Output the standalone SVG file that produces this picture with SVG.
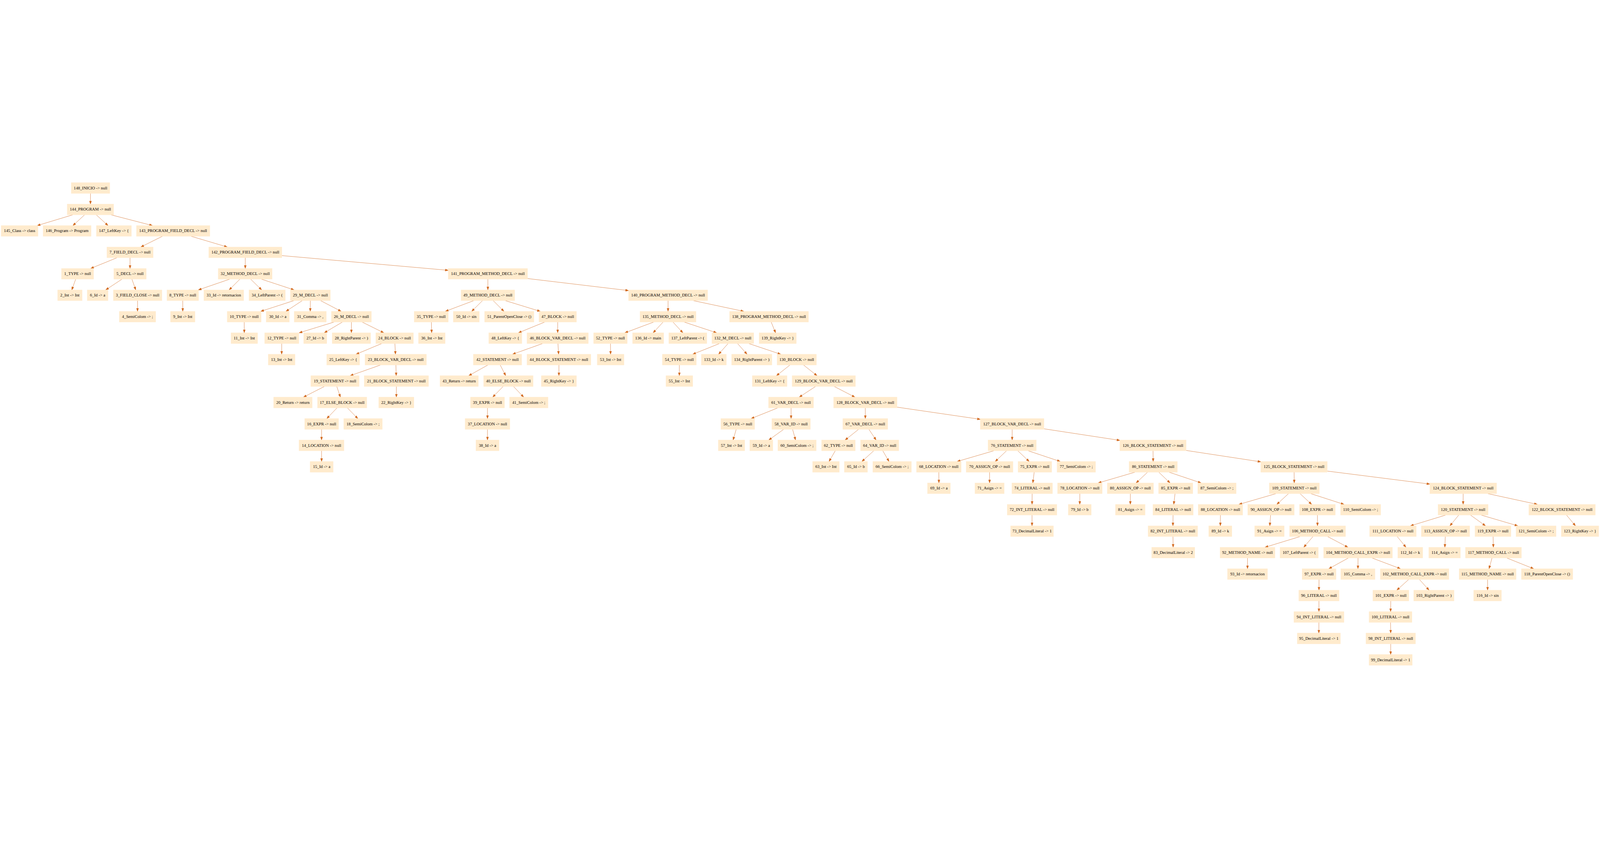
<svg xmlns="http://www.w3.org/2000/svg" width="7161" height="2171" viewBox="0 0 7161 2171">
<style>
:root{width:100vw;height:100vh;display:block}
.n rect{fill:#ffebcd;stroke:#ffebcd;stroke-width:1.33}
.n text{font-family:"Liberation Serif","Times New Roman",serif;font-size:18.67px;text-anchor:middle;fill:#000}
.e path{stroke:#d2691e;stroke-width:1.33;fill:none;marker-end:url(#a)}
</style>
<defs>
<marker id="a" markerUnits="userSpaceOnUse" markerWidth="16" markerHeight="12" viewBox="-1 -6 16 12" refX="13.33" refY="0" orient="auto">
<path d="M0,-4.67 L13.33,0 L0,4.67 Z" fill="#d2691e" stroke="#d2691e" stroke-width="1.33"/>
</marker>
</defs>
<rect x="0" y="0" width="7161" height="2171" fill="#fff"/>
<g id="edges" class="e">
<path d="M405.1 53.33L404.8 101.33"/>
<path d="M325.34 149.33L166.61 197.33"/>
<path d="M378.58 149.33L326.33 197.33"/>
<path d="M430.95 149.33L483.45 197.33"/>
<path d="M497.24 149.33L682.31 197.33"/>
<path d="M726.64 245.33L630.21 293.33"/>
<path d="M855.65 245.33L1017.25 293.33"/>
<path d="M523.31 341.33L405.94 389.33"/>
<path d="M582 341.33L582 389.33"/>
<path d="M1097.9 341.33L1097.6 389.33"/>
<path d="M1261.6 331.8L2006.2 397.6"/>
<path d="M338.65 437.33L321.45 485.33"/>
<path d="M545.7 437.33L473.1 485.33"/>
<path d="M590.48 437.33L607.43 485.33"/>
<path d="M1027.56 437.33L887.79 485.33"/>
<path d="M1073.49 437.33L1025.56 485.33"/>
<path d="M1122 437.33L1171.1 485.33"/>
<path d="M1170.35 437.33L1316.15 485.33"/>
<path d="M2183.54 437.33L2183.51 485.33"/>
<path d="M2360.9 434.4L2813.2 488.3"/>
<path d="M615.75 533.33L615.45 581.33"/>
<path d="M817.91 533.33L817.94 581.33"/>
<path d="M1315.01 533.33L1166.94 581.33"/>
<path d="M1352.6 533.33L1279.7 581.33"/>
<path d="M1388.9 533.33L1388.6 581.33"/>
<path d="M1434.98 533.33L1526.83 581.33"/>
<path d="M2120.1 533.33L1993.3 581.33"/>
<path d="M2159.39 533.33L2111.16 581.33"/>
<path d="M2207.48 533.33L2255.43 581.33"/>
<path d="M2261.7 533.33L2418.1 581.33"/>
<path d="M2989.99 533.33L2989.96 581.33"/>
<path d="M3103 533.33L3329 581.33"/>
<path d="M1093.04 629.33L1093.31 677.33"/>
<path d="M1494.82 629.33L1338.97 677.33"/>
<path d="M1532.27 629.33L1451.32 677.33"/>
<path d="M1572.74 629.33L1572.71 677.33"/>
<path d="M1621.08 629.33L1717.73 677.33"/>
<path d="M1930.6 629.33L1932 677.33"/>
<path d="M2437.61 629.33L2320.24 677.33"/>
<path d="M2496.18 629.33L2495.93 677.33"/>
<path d="M2925.51 629.33L2796.64 677.33"/>
<path d="M2967.7 629.33L2923.2 677.33"/>
<path d="M3012.05 629.33L3056.25 677.33"/>
<path d="M3062.43 629.33L3207.38 677.33"/>
<path d="M3451.69 629.33L3471.06 677.33"/>
<path d="M1260.91 725.33L1260.64 773.33"/>
<path d="M1708.54 725.33L1593.51 773.33"/>
<path d="M1767.35 725.33L1769.95 773.33"/>
<path d="M2428.5 725.33L2293.9 773.33"/>
<path d="M2497.23 725.33L2500.08 773.33"/>
<path d="M2732.35 725.33L2732.65 773.33"/>
<path d="M3220.01 725.33L3100.34 773.33"/>
<path d="M3258.61 725.33L3216.14 773.33"/>
<path d="M3301.04 725.33L3343.41 773.33"/>
<path d="M3351.36 725.33L3494.39 773.33"/>
<path d="M1703.26 821.33L1567.29 869.33"/>
<path d="M1771.93 821.33L1773.28 869.33"/>
<path d="M2183.69 821.33L2097.86 869.33"/>
<path d="M2238.79 821.33L2263.16 869.33"/>
<path d="M2501.5 821.33L2501.5 869.33"/>
<path d="M3040.5 821.33L3040.5 869.33"/>
<path d="M3535.62 821.33L3475.07 869.33"/>
<path d="M3596.18 821.33L3656.73 869.33"/>
<path d="M1452.22 917.33L1358.07 965.33"/>
<path d="M1507.33 917.33L1523.38 965.33"/>
<path d="M1773.95 917.33L1773.95 965.33"/>
<path d="M2251.96 917.33L2205.19 965.33"/>
<path d="M2298.16 917.33L2343.79 965.33"/>
<path d="M3650.37 917.33L3577.12 965.33"/>
<path d="M3733.45 917.33L3826.35 965.33"/>
<path d="M1508.44 1013.33L1462.51 1061.33"/>
<path d="M1554.76 1013.33L1601.49 1061.33"/>
<path d="M2181.8 1013.33L2181.8 1061.33"/>
<path d="M3480.87 1013.33L3361.62 1061.33"/>
<path d="M3540.55 1013.33L3540.65 1061.33"/>
<path d="M3872.81 1013.33L3872.84 1061.33"/>
<path d="M4014.6 1010.04L4387.7 1064.5"/>
<path d="M1439.4 1109.33L1439.1 1157.33"/>
<path d="M2181.8 1109.33L2181.75 1157.33"/>
<path d="M3295 1109.33L3281 1157.33"/>
<path d="M3507.35 1109.33L3440.65 1157.33"/>
<path d="M3547.31 1109.33L3560.54 1157.33"/>
<path d="M3842.71 1109.33L3782.44 1157.33"/>
<path d="M3888.91 1109.33L3921.04 1157.33"/>
<path d="M4530.05 1109.33L4530.05 1157.33"/>
<path d="M4672.4 1107L5012.2 1158.8"/>
<path d="M1439.11 1205.33L1439.44 1253.33"/>
<path d="M3738.37 1205.33L3710.52 1253.33"/>
<path d="M3910.56 1205.33L3857.49 1253.33"/>
<path d="M3951.03 1205.33L3978.88 1253.33"/>
<path d="M4447.97 1205.33L4283.82 1253.33"/>
<path d="M4504.8 1205.33L4454.3 1253.33"/>
<path d="M4555.44 1205.33L4606.21 1253.33"/>
<path d="M4601.8 1205.33L4745.3 1253.33"/>
<path d="M5160.58 1205.33L5161.13 1253.33"/>
<path d="M5308.4 1203.8L5643 1254.8"/>
<path d="M4201.89 1301.33L4202.16 1349.33"/>
<path d="M4429.04 1301.33L4429.01 1349.33"/>
<path d="M4628.6 1301.33L4622.6 1349.33"/>
<path d="M5079.32 1301.33L4915.17 1349.33"/>
<path d="M5135.87 1301.33L5084.82 1349.33"/>
<path d="M5186.51 1301.33L5236.74 1349.33"/>
<path d="M5232.84 1301.33L5375.71 1349.33"/>
<path d="M5792 1301.33L5792.6 1349.33"/>
<path d="M5940.4 1296.2L6399.5 1354.4"/>
<path d="M4619.45 1397.33L4619.15 1445.33"/>
<path d="M4832.95 1397.33L4832.65 1445.33"/>
<path d="M5059.15 1397.33L5058.85 1445.33"/>
<path d="M5258.99 1397.33L5253.26 1445.33"/>
<path d="M5710.2 1397.33L5544.9 1445.33"/>
<path d="M5766.7 1397.33L5714.5 1445.33"/>
<path d="M5818.7 1397.33L5870.4 1445.33"/>
<path d="M5867 1397.33L6015.4 1445.33"/>
<path d="M6548.6 1397.33L6548.4 1445.33"/>
<path d="M6659.4 1397.33L6880.7 1445.33"/>
<path d="M4618.99 1493.33L4618.96 1541.33"/>
<path d="M5250.13 1493.33L5249.58 1541.33"/>
<path d="M5462.1 1493.33L5461.8 1541.33"/>
<path d="M5686.7 1493.33L5683.2 1541.33"/>
<path d="M5896.3 1493.33L5896.6 1541.33"/>
<path d="M6469.7 1493.33L6312.7 1541.33"/>
<path d="M6528.6 1493.33L6489.3 1541.33"/>
<path d="M6581.7 1493.33L6648.5 1541.33"/>
<path d="M6629.9 1493.33L6793.2 1541.33"/>
<path d="M7011.3 1493.33L7051.2 1541.33"/>
<path d="M5249.71 1589.33L5250.54 1637.33"/>
<path d="M5818.4 1589.33L5661.7 1637.33"/>
<path d="M5876.2 1589.33L5835.2 1637.33"/>
<path d="M5942.1 1589.33L6032.8 1637.33"/>
<path d="M6253.6 1589.33L6292.4 1637.33"/>
<path d="M6468.6 1589.33L6466.6 1637.33"/>
<path d="M6682.5 1589.33L6683.7 1637.33"/>
<path d="M5583.35 1685.33L5583.35 1733.33"/>
<path d="M6034.5 1685.33L5947.3 1733.33"/>
<path d="M6078 1685.33L6077.7 1733.33"/>
<path d="M6141.4 1685.33L6268 1733.33"/>
<path d="M6677.7 1685.33L6664.5 1733.33"/>
<path d="M6744.2 1685.33L6864.2 1733.33"/>
<path d="M5903.5 1781.33L5903.2 1829.33"/>
<path d="M6304.7 1781.33L6251.6 1829.33"/>
<path d="M6352.8 1781.33L6395.9 1829.33"/>
<path d="M6657.9 1781.33L6657.9 1829.33"/>
<path d="M5903.1 1877.33L5903.05 1925.33"/>
<path d="M6224.6 1877.33L6223.8 1925.33"/>
<path d="M5902.9 1973.33L5902.6 2021.33"/>
<path d="M6223.6 1973.33L6224.2 2021.33"/>
<path d="M6224.4 2069.33L6224.1 2117.33"/>
</g>
<g id="n148" class="n"><rect x="319.1" y="5.33" width="172.2" height="48"/><text x="405.2" y="34.93">148_INICIO -&gt; null</text></g>
<g id="n144" class="n"><rect x="300.8" y="101.33" width="207.8" height="48"/><text x="404.7" y="130.93">144_PROGRAM -&gt; null</text></g>
<g id="n145" class="n"><rect x="5.3" y="197.33" width="164.6" height="48"/><text x="87.6" y="226.93">145_Class -&gt; class</text></g>
<g id="n146" class="n"><rect x="192.9" y="197.33" width="214.6" height="48"/><text x="300.2" y="226.93">146_Program -&gt; Program</text></g>
<g id="n147" class="n"><rect x="431.6" y="197.33" width="156.2" height="48"/><text x="509.7" y="226.93">147_LeftKey -&gt; {</text></g>
<g id="n143" class="n"><rect x="610.7" y="197.33" width="328.3" height="48"/><text x="774.85" y="226.93">143_PROGRAM_FIELD_DECL -&gt; null</text></g>
<g id="n7" class="n"><rect x="478.7" y="293.33" width="206.6" height="48"/><text x="582" y="322.93">7_FIELD_DECL -&gt; null</text></g>
<g id="n142" class="n"><rect x="934.5" y="293.33" width="327.1" height="48"/><text x="1098.05" y="322.93">142_PROGRAM_FIELD_DECL -&gt; null</text></g>
<g id="n1" class="n"><rect x="275.5" y="389.33" width="143.5" height="48"/><text x="347.25" y="418.93">1_TYPE -&gt; null</text></g>
<g id="n5" class="n"><rect x="509.7" y="389.33" width="144.6" height="48"/><text x="582" y="418.93">5_DECL -&gt; null</text></g>
<g id="n32" class="n"><rect x="976.9" y="389.33" width="241.1" height="48"/><text x="1097.45" y="418.93">32_METHOD_DECL -&gt; null</text></g>
<g id="n141" class="n"><rect x="2006.2" y="389.33" width="354.7" height="48"/><text x="2183.55" y="418.93">141_PROGRAM_METHOD_DECL -&gt; null</text></g>
<g id="n2" class="n"><rect x="258.3" y="485.33" width="109.1" height="48"/><text x="312.85" y="514.93">2_Int -&gt; Int</text></g>
<g id="n6" class="n"><rect x="390.3" y="485.33" width="93" height="48"/><text x="436.8" y="514.93">6_Id -&gt; a</text></g>
<g id="n3" class="n"><rect x="507.4" y="485.33" width="217" height="48"/><text x="615.9" y="514.93">3_FIELD_CLOSE -&gt; null</text></g>
<g id="n8" class="n"><rect x="747.3" y="485.33" width="141.2" height="48"/><text x="817.9" y="514.93">8_TYPE -&gt; null</text></g>
<g id="n33" class="n"><rect x="912.6" y="485.33" width="178" height="48"/><text x="1001.6" y="514.93">33_Id -&gt; retornacion</text></g>
<g id="n34" class="n"><rect x="1114.7" y="485.33" width="161.9" height="48"/><text x="1195.65" y="514.93">34_LeftParent -&gt; (</text></g>
<g id="n29" class="n"><rect x="1299.5" y="485.33" width="179.1" height="48"/><text x="1389.05" y="514.93">29_M_DECL -&gt; null</text></g>
<g id="n49" class="n"><rect x="2063.5" y="485.33" width="240" height="48"/><text x="2183.5" y="514.93">49_METHOD_DECL -&gt; null</text></g>
<g id="n140" class="n"><rect x="2813.2" y="485.33" width="353.6" height="48"/><text x="2990" y="514.93">140_PROGRAM_METHOD_DECL -&gt; null</text></g>
<g id="n4" class="n"><rect x="533.8" y="581.33" width="163" height="48"/><text x="615.3" y="610.93">4_SemiColom -&gt; ;</text></g>
<g id="n9" class="n"><rect x="763.4" y="581.33" width="109.1" height="48"/><text x="817.95" y="610.93">9_Int -&gt; Int</text></g>
<g id="n10" class="n"><rect x="1017.1" y="581.33" width="151.6" height="48"/><text x="1092.9" y="610.93">10_TYPE -&gt; null</text></g>
<g id="n30" class="n"><rect x="1191.6" y="581.33" width="103.3" height="48"/><text x="1243.25" y="610.93">30_Id -&gt; a</text></g>
<g id="n31" class="n"><rect x="1316.7" y="581.33" width="143.5" height="48"/><text x="1388.45" y="610.93">31_Comma -&gt; ,</text></g>
<g id="n26" class="n"><rect x="1483.2" y="581.33" width="179.1" height="48"/><text x="1572.75" y="610.93">26_M_DECL -&gt; null</text></g>
<g id="n35" class="n"><rect x="1853.7" y="581.33" width="152.4" height="48"/><text x="1929.9" y="610.93">35_TYPE -&gt; null</text></g>
<g id="n50" class="n"><rect x="2029.1" y="581.33" width="115.9" height="48"/><text x="2087.05" y="610.93">50_Id -&gt; sin</text></g>
<g id="n51" class="n"><rect x="2169.2" y="581.33" width="220.4" height="48"/><text x="2279.4" y="610.93">51_ParentOpenClose -&gt; ()</text></g>
<g id="n47" class="n"><rect x="2412.5" y="581.33" width="167.6" height="48"/><text x="2496.3" y="610.93">47_BLOCK -&gt; null</text></g>
<g id="n135" class="n"><rect x="2864.8" y="581.33" width="250.3" height="48"/><text x="2989.95" y="610.93">135_METHOD_DECL -&gt; null</text></g>
<g id="n138" class="n"><rect x="3265.5" y="581.33" width="353" height="48"/><text x="3442" y="610.93">138_PROGRAM_METHOD_DECL -&gt; null</text></g>
<g id="n11" class="n"><rect x="1034.3" y="677.33" width="118.3" height="48"/><text x="1093.45" y="706.93">11_Int -&gt; Int</text></g>
<g id="n12" class="n"><rect x="1184.7" y="677.33" width="152.7" height="48"/><text x="1261.05" y="706.93">12_TYPE -&gt; null</text></g>
<g id="n27" class="n"><rect x="1359.2" y="677.33" width="103.3" height="48"/><text x="1410.85" y="706.93">27_Id -&gt; b</text></g>
<g id="n28" class="n"><rect x="1486.6" y="677.33" width="172.2" height="48"/><text x="1572.7" y="706.93">28_RightParent -&gt; )</text></g>
<g id="n24" class="n"><rect x="1682.1" y="677.33" width="167.9" height="48"/><text x="1766.05" y="706.93">24_BLOCK -&gt; null</text></g>
<g id="n36" class="n"><rect x="1873" y="677.33" width="119.4" height="48"/><text x="1932.7" y="706.93">36_Int -&gt; Int</text></g>
<g id="n48" class="n"><rect x="2187.5" y="677.33" width="148.1" height="48"/><text x="2261.55" y="706.93">48_LeftKey -&gt; {</text></g>
<g id="n46" class="n"><rect x="2358.6" y="677.33" width="274.4" height="48"/><text x="2495.8" y="706.93">46_BLOCK_VAR_DECL -&gt; null</text></g>
<g id="n52" class="n"><rect x="2657" y="677.33" width="150.4" height="48"/><text x="2732.2" y="706.93">52_TYPE -&gt; null</text></g>
<g id="n136" class="n"><rect x="2831.5" y="677.33" width="138.9" height="48"/><text x="2900.95" y="706.93">136_Id -&gt; main</text></g>
<g id="n137" class="n"><rect x="2993.4" y="677.33" width="169.9" height="48"/><text x="3078.35" y="706.93">137_LeftParent -&gt; (</text></g>
<g id="n132" class="n"><rect x="3186.3" y="677.33" width="187.1" height="48"/><text x="3279.85" y="706.93">132_M_DECL -&gt; null</text></g>
<g id="n139" class="n"><rect x="3397.5" y="677.33" width="166.5" height="48"/><text x="3480.75" y="706.93">139_RightKey -&gt; }</text></g>
<g id="n13" class="n"><rect x="1200.8" y="773.33" width="119.4" height="48"/><text x="1260.5" y="802.93">13_Int -&gt; Int</text></g>
<g id="n25" class="n"><rect x="1462.5" y="773.33" width="147" height="48"/><text x="1536" y="802.93">25_LeftKey -&gt; {</text></g>
<g id="n23" class="n"><rect x="1633.9" y="773.33" width="274.7" height="48"/><text x="1771.25" y="802.93">23_BLOCK_VAR_DECL -&gt; null</text></g>
<g id="n42" class="n"><rect x="2118.7" y="773.33" width="215.8" height="48"/><text x="2226.6" y="802.93">42_STATEMENT -&gt; null</text></g>
<g id="n44" class="n"><rect x="2358.6" y="773.33" width="285.8" height="48"/><text x="2501.5" y="802.93">44_BLOCK_STATEMENT -&gt; null</text></g>
<g id="n53" class="n"><rect x="2673.1" y="773.33" width="119.4" height="48"/><text x="2732.8" y="802.93">53_Int -&gt; Int</text></g>
<g id="n54" class="n"><rect x="2964.7" y="773.33" width="151.6" height="48"/><text x="3040.5" y="802.93">54_TYPE -&gt; null</text></g>
<g id="n133" class="n"><rect x="3139.2" y="773.33" width="111.4" height="48"/><text x="3194.9" y="802.93">133_Id -&gt; k</text></g>
<g id="n134" class="n"><rect x="3274.6" y="773.33" width="180" height="48"/><text x="3364.6" y="802.93">134_RightParent -&gt; )</text></g>
<g id="n130" class="n"><rect x="3477.9" y="773.33" width="176" height="48"/><text x="3565.9" y="802.93">130_BLOCK -&gt; null</text></g>
<g id="n19" class="n"><rect x="1391.4" y="869.33" width="215.8" height="48"/><text x="1499.3" y="898.93">19_STATEMENT -&gt; null</text></g>
<g id="n21" class="n"><rect x="1630" y="869.33" width="287.9" height="48"/><text x="1773.95" y="898.93">21_BLOCK_STATEMENT -&gt; null</text></g>
<g id="n43" class="n"><rect x="1969.4" y="869.33" width="171.1" height="48"/><text x="2054.95" y="898.93">43_Return -&gt; return</text></g>
<g id="n40" class="n"><rect x="2164.6" y="869.33" width="221.5" height="48"/><text x="2275.35" y="898.93">40_ELSE_BLOCK -&gt; null</text></g>
<g id="n45" class="n"><rect x="2422.9" y="869.33" width="157.2" height="48"/><text x="2501.5" y="898.93">45_RightKey -&gt; }</text></g>
<g id="n55" class="n"><rect x="2980.8" y="869.33" width="119.4" height="48"/><text x="3040.5" y="898.93">55_Int -&gt; Int</text></g>
<g id="n131" class="n"><rect x="3367.1" y="869.33" width="155.4" height="48"/><text x="3444.8" y="898.93">131_LeftKey -&gt; {</text></g>
<g id="n129" class="n"><rect x="3545.4" y="869.33" width="283.2" height="48"/><text x="3687" y="898.93">129_BLOCK_VAR_DECL -&gt; null</text></g>
<g id="n20" class="n"><rect x="1224.9" y="965.33" width="172.2" height="48"/><text x="1311" y="994.93">20_Return -&gt; return</text></g>
<g id="n17" class="n"><rect x="1421.2" y="965.33" width="220.4" height="48"/><text x="1531.4" y="994.93">17_ELSE_BLOCK -&gt; null</text></g>
<g id="n22" class="n"><rect x="1695.4" y="965.33" width="157.1" height="48"/><text x="1773.95" y="994.93">22_RightKey -&gt; }</text></g>
<g id="n39" class="n"><rect x="2106" y="965.33" width="151.6" height="48"/><text x="2181.8" y="994.93">39_EXPR -&gt; null</text></g>
<g id="n41" class="n"><rect x="2280.5" y="965.33" width="172.2" height="48"/><text x="2366.6" y="994.93">41_SemiColom -&gt; ;</text></g>
<g id="n61" class="n"><rect x="3440" y="965.33" width="201" height="48"/><text x="3540.5" y="994.93">61_VAR_DECL -&gt; null</text></g>
<g id="n128" class="n"><rect x="3731" y="965.33" width="283.6" height="48"/><text x="3872.8" y="994.93">128_BLOCK_VAR_DECL -&gt; null</text></g>
<g id="n16" class="n"><rect x="1363.8" y="1061.33" width="151.5" height="48"/><text x="1439.55" y="1090.93">16_EXPR -&gt; null</text></g>
<g id="n18" class="n"><rect x="1538.6" y="1061.33" width="172.5" height="48"/><text x="1624.85" y="1090.93">18_SemiColom -&gt; ;</text></g>
<g id="n37" class="n"><rect x="2081.9" y="1061.33" width="199.8" height="48"/><text x="2181.8" y="1090.93">37_LOCATION -&gt; null</text></g>
<g id="n56" class="n"><rect x="3226.5" y="1061.33" width="151" height="48"/><text x="3302" y="1090.93">56_TYPE -&gt; null</text></g>
<g id="n58" class="n"><rect x="3454.6" y="1061.33" width="172.2" height="48"/><text x="3540.7" y="1090.93">58_VAR_ID -&gt; null</text></g>
<g id="n67" class="n"><rect x="3772.4" y="1061.33" width="200.9" height="48"/><text x="3872.85" y="1090.93">67_VAR_DECL -&gt; null</text></g>
<g id="n127" class="n"><rect x="4387.7" y="1061.33" width="284.7" height="48"/><text x="4530.05" y="1090.93">127_BLOCK_VAR_DECL -&gt; null</text></g>
<g id="n14" class="n"><rect x="1338.5" y="1157.33" width="200.9" height="48"/><text x="1438.95" y="1186.93">14_LOCATION -&gt; null</text></g>
<g id="n38" class="n"><rect x="2130.1" y="1157.33" width="103.3" height="48"/><text x="2181.75" y="1186.93">38_Id -&gt; a</text></g>
<g id="n57" class="n"><rect x="3215" y="1157.33" width="118" height="48"/><text x="3274" y="1186.93">57_Int -&gt; Int</text></g>
<g id="n59" class="n"><rect x="3356" y="1157.33" width="102.6" height="48"/><text x="3407.3" y="1186.93">59_Id -&gt; a</text></g>
<g id="n60" class="n"><rect x="3481.4" y="1157.33" width="171.5" height="48"/><text x="3567.15" y="1186.93">60_SemiColom -&gt; ;</text></g>
<g id="n62" class="n"><rect x="3677.1" y="1157.33" width="150.4" height="48"/><text x="3752.3" y="1186.93">62_TYPE -&gt; null</text></g>
<g id="n64" class="n"><rect x="3851.6" y="1157.33" width="171" height="48"/><text x="3937.1" y="1186.93">64_VAR_ID -&gt; null</text></g>
<g id="n76" class="n"><rect x="4422.1" y="1157.33" width="215.9" height="48"/><text x="4530.05" y="1186.93">76_STATEMENT -&gt; null</text></g>
<g id="n126" class="n"><rect x="5012.2" y="1157.33" width="296.2" height="48"/><text x="5160.3" y="1186.93">126_BLOCK_STATEMENT -&gt; null</text></g>
<g id="n15" class="n"><rect x="1388" y="1253.33" width="103.2" height="48"/><text x="1439.6" y="1282.93">15_Id -&gt; a</text></g>
<g id="n63" class="n"><rect x="3636.9" y="1253.33" width="119.4" height="48"/><text x="3696.6" y="1282.93">63_Int -&gt; Int</text></g>
<g id="n65" class="n"><rect x="3779.3" y="1253.33" width="103.3" height="48"/><text x="3830.95" y="1282.93">65_Id -&gt; b</text></g>
<g id="n66" class="n"><rect x="3906.7" y="1253.33" width="172.2" height="48"/><text x="3992.8" y="1282.93">66_SemiColom -&gt; ;</text></g>
<g id="n68" class="n"><rect x="4101.9" y="1253.33" width="199.7" height="48"/><text x="4201.75" y="1282.93">68_LOCATION -&gt; null</text></g>
<g id="n70" class="n"><rect x="4324.6" y="1253.33" width="208.9" height="48"/><text x="4429.05" y="1282.93">70_ASSIGN_OP -&gt; null</text></g>
<g id="n75" class="n"><rect x="4556.4" y="1253.33" width="150.4" height="48"/><text x="4631.6" y="1282.93">75_EXPR -&gt; null</text></g>
<g id="n77" class="n"><rect x="4731" y="1253.33" width="172.1" height="48"/><text x="4817.05" y="1282.93">77_SemiColom -&gt; ;</text></g>
<g id="n86" class="n"><rect x="5053.5" y="1253.33" width="215.8" height="48"/><text x="5161.4" y="1282.93">86_STATEMENT -&gt; null</text></g>
<g id="n125" class="n"><rect x="5643" y="1253.33" width="297.4" height="48"/><text x="5791.7" y="1282.93">125_BLOCK_STATEMENT -&gt; null</text></g>
<g id="n69" class="n"><rect x="4151.2" y="1349.33" width="102.2" height="48"/><text x="4202.3" y="1378.93">69_Id -&gt; a</text></g>
<g id="n71" class="n"><rect x="4363.6" y="1349.33" width="130.8" height="48"/><text x="4429" y="1378.93">71_Asign -&gt; =</text></g>
<g id="n74" class="n"><rect x="4528.9" y="1349.33" width="181.4" height="48"/><text x="4619.6" y="1378.93">74_LITERAL -&gt; null</text></g>
<g id="n78" class="n"><rect x="4733.2" y="1349.33" width="199.8" height="48"/><text x="4833.1" y="1378.93">78_LOCATION -&gt; null</text></g>
<g id="n80" class="n"><rect x="4956" y="1349.33" width="206.6" height="48"/><text x="5059.3" y="1378.93">80_ASSIGN_OP -&gt; null</text></g>
<g id="n85" class="n"><rect x="5185.5" y="1349.33" width="152.7" height="48"/><text x="5261.85" y="1378.93">85_EXPR -&gt; null</text></g>
<g id="n87" class="n"><rect x="5360.8" y="1349.33" width="171.6" height="48"/><text x="5446.6" y="1378.93">87_SemiColom -&gt; ;</text></g>
<g id="n109" class="n"><rect x="5680.9" y="1349.33" width="223.9" height="48"/><text x="5792.85" y="1378.93">109_STATEMENT -&gt; null</text></g>
<g id="n124" class="n"><rect x="6399.5" y="1349.33" width="298.5" height="48"/><text x="6548.75" y="1378.93">124_BLOCK_STATEMENT -&gt; null</text></g>
<g id="n72" class="n"><rect x="4508.2" y="1445.33" width="221.6" height="48"/><text x="4619" y="1474.93">72_INT_LITERAL -&gt; null</text></g>
<g id="n79" class="n"><rect x="4781.4" y="1445.33" width="102.2" height="48"/><text x="4832.5" y="1474.93">79_Id -&gt; b</text></g>
<g id="n81" class="n"><rect x="4992.7" y="1445.33" width="132" height="48"/><text x="5058.7" y="1474.93">81_Asign -&gt; =</text></g>
<g id="n84" class="n"><rect x="5160.3" y="1445.33" width="180.2" height="48"/><text x="5250.4" y="1474.93">84_LITERAL -&gt; null</text></g>
<g id="n88" class="n"><rect x="5362.9" y="1445.33" width="198.6" height="48"/><text x="5462.2" y="1474.93">88_LOCATION -&gt; null</text></g>
<g id="n90" class="n"><rect x="5584.5" y="1445.33" width="207.8" height="48"/><text x="5688.4" y="1474.93">90_ASSIGN_OP -&gt; null</text></g>
<g id="n108" class="n"><rect x="5816.4" y="1445.33" width="159.6" height="48"/><text x="5896.2" y="1474.93">108_EXPR -&gt; null</text></g>
<g id="n110" class="n"><rect x="6000.1" y="1445.33" width="179.1" height="48"/><text x="6089.65" y="1474.93">110_SemiColom -&gt; ;</text></g>
<g id="n120" class="n"><rect x="6436.3" y="1445.33" width="223.9" height="48"/><text x="6548.25" y="1474.93">120_STATEMENT -&gt; null</text></g>
<g id="n122" class="n"><rect x="6842.7" y="1445.33" width="297.3" height="48"/><text x="6991.35" y="1474.93">122_BLOCK_STATEMENT -&gt; null</text></g>
<g id="n73" class="n"><rect x="4523.1" y="1541.33" width="191.7" height="48"/><text x="4618.95" y="1570.93">73_DecimalLiteral -&gt; 1</text></g>
<g id="n82" class="n"><rect x="5138.5" y="1541.33" width="221.6" height="48"/><text x="5249.3" y="1570.93">82_INT_LITERAL -&gt; null</text></g>
<g id="n89" class="n"><rect x="5410" y="1541.33" width="103.3" height="48"/><text x="5461.65" y="1570.93">89_Id -&gt; k</text></g>
<g id="n91" class="n"><rect x="5615.5" y="1541.33" width="132" height="48"/><text x="5681.5" y="1570.93">91_Asign -&gt; =</text></g>
<g id="n106" class="n"><rect x="5771.6" y="1541.33" width="250.3" height="48"/><text x="5896.75" y="1570.93">106_METHOD_CALL -&gt; null</text></g>
<g id="n111" class="n"><rect x="6129.8" y="1541.33" width="208.9" height="48"/><text x="6234.25" y="1570.93">111_LOCATION -&gt; null</text></g>
<g id="n113" class="n"><rect x="6361.7" y="1541.33" width="215.8" height="48"/><text x="6469.6" y="1570.93">113_ASSIGN_OP -&gt; null</text></g>
<g id="n119" class="n"><rect x="6601.6" y="1541.33" width="160.7" height="48"/><text x="6681.95" y="1570.93">119_EXPR -&gt; null</text></g>
<g id="n121" class="n"><rect x="6785.3" y="1541.33" width="179.1" height="48"/><text x="6874.85" y="1570.93">121_SemiColom -&gt; ;</text></g>
<g id="n123" class="n"><rect x="6987.9" y="1541.33" width="167.6" height="48"/><text x="7071.7" y="1570.93">123_RightKey -&gt; }</text></g>
<g id="n83" class="n"><rect x="5154.5" y="1637.33" width="192.9" height="48"/><text x="5250.95" y="1666.93">83_DecimalLiteral -&gt; 2</text></g>
<g id="n92" class="n"><rect x="5460.5" y="1637.33" width="245.7" height="48"/><text x="5583.35" y="1666.93">92_METHOD_NAME -&gt; null</text></g>
<g id="n107" class="n"><rect x="5729.1" y="1637.33" width="171.1" height="48"/><text x="5814.65" y="1666.93">107_LeftParent -&gt; (</text></g>
<g id="n104" class="n"><rect x="5924.3" y="1637.33" width="307.7" height="48"/><text x="6078.15" y="1666.93">104_METHOD_CALL_EXPR -&gt; null</text></g>
<g id="n112" class="n"><rect x="6256.1" y="1637.33" width="111.3" height="48"/><text x="6311.75" y="1666.93">112_Id -&gt; k</text></g>
<g id="n114" class="n"><rect x="6395" y="1637.33" width="141.2" height="48"/><text x="6465.6" y="1666.93">114_Asign -&gt; =</text></g>
<g id="n117" class="n"><rect x="6559.1" y="1637.33" width="250.3" height="48"/><text x="6684.25" y="1666.93">117_METHOD_CALL -&gt; null</text></g>
<g id="n93" class="n"><rect x="5493.8" y="1733.33" width="179.1" height="48"/><text x="5583.35" y="1762.93">93_Id -&gt; retornacion</text></g>
<g id="n97" class="n"><rect x="5827.9" y="1733.33" width="151.5" height="48"/><text x="5903.65" y="1762.93">97_EXPR -&gt; null</text></g>
<g id="n105" class="n"><rect x="6001.2" y="1733.33" width="152.7" height="48"/><text x="6077.55" y="1762.93">105_Comma -&gt; ,</text></g>
<g id="n102" class="n"><rect x="6178" y="1733.33" width="306.5" height="48"/><text x="6331.25" y="1762.93">102_METHOD_CALL_EXPR -&gt; null</text></g>
<g id="n115" class="n"><rect x="6530.5" y="1733.33" width="254.8" height="48"/><text x="6657.9" y="1762.93">115_METHOD_NAME -&gt; null</text></g>
<g id="n118" class="n"><rect x="6809.4" y="1733.33" width="229.6" height="48"/><text x="6924.2" y="1762.93">118_ParentOpenClose -&gt; ()</text></g>
<g id="n96" class="n"><rect x="5813" y="1829.33" width="180.2" height="48"/><text x="5903.1" y="1858.93">96_LITERAL -&gt; null</text></g>
<g id="n101" class="n"><rect x="6144.7" y="1829.33" width="160.7" height="48"/><text x="6225.05" y="1858.93">101_EXPR -&gt; null</text></g>
<g id="n103" class="n"><rect x="6327.3" y="1829.33" width="180.2" height="48"/><text x="6417.4" y="1858.93">103_RightParent -&gt; )</text></g>
<g id="n116" class="n"><rect x="6595.9" y="1829.33" width="124" height="48"/><text x="6657.9" y="1858.93">116_Id -&gt; sin</text></g>
<g id="n94" class="n"><rect x="5791.1" y="1925.33" width="223.9" height="48"/><text x="5903.05" y="1954.93">94_INT_LITERAL -&gt; null</text></g>
<g id="n100" class="n"><rect x="6127.5" y="1925.33" width="191.7" height="48"/><text x="6223.35" y="1954.93">100_LITERAL -&gt; null</text></g>
<g id="n95" class="n"><rect x="5806.1" y="2021.33" width="192.8" height="48"/><text x="5902.5" y="2050.93">95_DecimalLiteral -&gt; 1</text></g>
<g id="n98" class="n"><rect x="6113.7" y="2021.33" width="221.6" height="48"/><text x="6224.5" y="2050.93">98_INT_LITERAL -&gt; null</text></g>
<g id="n99" class="n"><rect x="6127.5" y="2117.33" width="192.9" height="48"/><text x="6223.95" y="2146.93">99_DecimalLiteral -&gt; 1</text></g>
</svg>
